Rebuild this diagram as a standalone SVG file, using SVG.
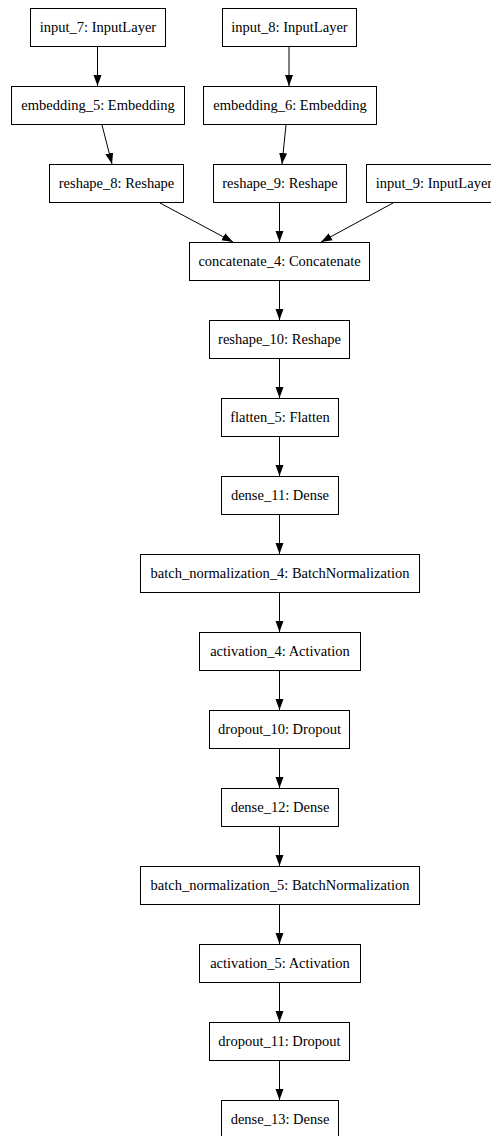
<svg xmlns="http://www.w3.org/2000/svg" width="491" height="1136" viewBox="0 0 491 1136">
<style>
.n rect{fill:#fff;stroke:#000;stroke-width:1}
.n text{font-family:"Liberation Serif","Times New Roman",serif;font-size:14.5px;text-anchor:middle;fill:#000}
#edges line{stroke:#000;stroke-width:1;marker-end:url(#ah)}
</style>
<defs>
<marker id="ah" markerUnits="userSpaceOnUse" markerWidth="11" markerHeight="9" refX="11" refY="4.5" orient="auto">
<path d="M0,0.5 L11,4.5 L0,8.5 z" fill="#000"/>
</marker>
</defs>
<rect width="491" height="1136" fill="#fff"/>
<g id="edges">
<line x1="97.5" y1="47" x2="97.5" y2="86"/>
<line x1="289" y1="47" x2="289" y2="86"/>
<line x1="102" y1="125" x2="112" y2="164"/>
<line x1="286" y1="125" x2="282" y2="164"/>
<line x1="160" y1="203" x2="233" y2="242"/>
<line x1="279.5" y1="203" x2="279.5" y2="242"/>
<line x1="393" y1="203" x2="321" y2="242"/>
<line x1="279.5" y1="281" x2="279.5" y2="320"/>
<line x1="279.5" y1="359" x2="279.5" y2="398"/>
<line x1="279.5" y1="437" x2="279.5" y2="476"/>
<line x1="279.5" y1="515" x2="279.5" y2="554"/>
<line x1="279.5" y1="593" x2="279.5" y2="632"/>
<line x1="279.5" y1="671" x2="279.5" y2="710"/>
<line x1="279.5" y1="749" x2="279.5" y2="788"/>
<line x1="279.5" y1="827" x2="279.5" y2="866"/>
<line x1="279.5" y1="905" x2="279.5" y2="944"/>
<line x1="279.5" y1="983" x2="279.5" y2="1022"/>
<line x1="279.5" y1="1061" x2="279.5" y2="1100"/>
</g>
<g id="input_7" class="n"><rect x="30.5" y="8.5" width="135" height="38"/><text x="98" y="32">input_7: InputLayer</text></g>
<g id="input_8" class="n"><rect x="222.5" y="8.5" width="134" height="38"/><text x="289.5" y="32">input_8: InputLayer</text></g>
<g id="embedding_5" class="n"><rect x="11.5" y="86.5" width="173" height="38"/><text x="98" y="110">embedding_5: Embedding</text></g>
<g id="embedding_6" class="n"><rect x="203.5" y="86.5" width="173" height="38"/><text x="290" y="110">embedding_6: Embedding</text></g>
<g id="reshape_8" class="n"><rect x="49.5" y="164.5" width="134" height="38"/><text x="116.5" y="188">reshape_8: Reshape</text></g>
<g id="reshape_9" class="n"><rect x="213.5" y="164.5" width="133" height="38"/><text x="280" y="188">reshape_9: Reshape</text></g>
<g id="input_9" class="n"><rect x="366.5" y="164.5" width="135" height="38"/><text x="434" y="188">input_9: InputLayer</text></g>
<g id="concatenate_4" class="n"><rect x="189.5" y="242.5" width="180" height="38"/><text x="279.5" y="266">concatenate_4: Concatenate</text></g>
<g id="reshape_10" class="n"><rect x="209.5" y="320.5" width="140" height="38"/><text x="279.5" y="344">reshape_10: Reshape</text></g>
<g id="flatten_5" class="n"><rect x="221.5" y="398.5" width="117" height="38"/><text x="280" y="422">flatten_5: Flatten</text></g>
<g id="dense_11" class="n"><rect x="221.5" y="476.5" width="117" height="38"/><text x="280" y="500">dense_11: Dense</text></g>
<g id="batch_normalization_4" class="n"><rect x="140.5" y="554.5" width="279" height="38"/><text x="280" y="578">batch_normalization_4: BatchNormalization</text></g>
<g id="activation_4" class="n"><rect x="199.5" y="632.5" width="161" height="38"/><text x="280" y="656">activation_4: Activation</text></g>
<g id="dropout_10" class="n"><rect x="209.5" y="710.5" width="140" height="38"/><text x="279.5" y="734">dropout_10: Dropout</text></g>
<g id="dense_12" class="n"><rect x="221.5" y="788.5" width="117" height="38"/><text x="280" y="812">dense_12: Dense</text></g>
<g id="batch_normalization_5" class="n"><rect x="140.5" y="866.5" width="279" height="38"/><text x="280" y="890">batch_normalization_5: BatchNormalization</text></g>
<g id="activation_5" class="n"><rect x="199.5" y="944.5" width="161" height="38"/><text x="280" y="968">activation_5: Activation</text></g>
<g id="dropout_11" class="n"><rect x="209.5" y="1022.5" width="140" height="38"/><text x="279.5" y="1046">dropout_11: Dropout</text></g>
<g id="dense_13" class="n"><rect x="221.5" y="1100.5" width="117" height="38"/><text x="280" y="1124">dense_13: Dense</text></g>
</svg>
